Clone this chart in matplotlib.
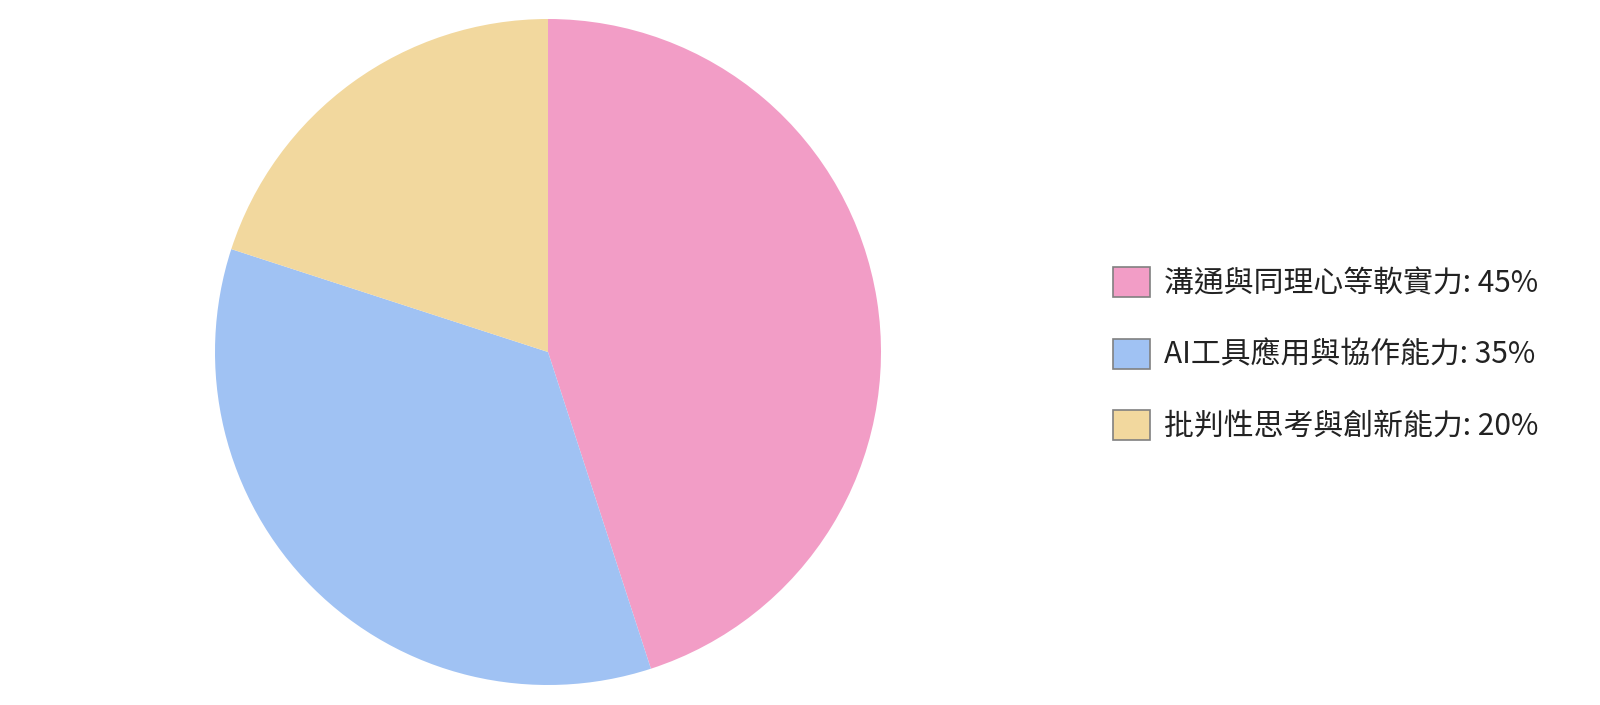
import matplotlib.pyplot as plt

plt.rcParams['font.family'] = ['Noto Sans CJK TC', 'DejaVu Sans']

labels = ['溝通與同理心等軟實力', 'AI工具應用與協作能力', '批判性思考與創新能力']
values = [45, 35, 20]
colors = ['#F29DC6', '#A0C2F3', '#F2D89E']

fig = plt.figure(figsize=(16, 7.05), dpi=100)
cx, cy, r = 548, 352, 333
ax = fig.add_axes([(cx - r) / 1600, (705 - cy - r) / 705, 2 * r / 1600, 2 * r / 705])
wedges, _ = ax.pie(values, colors=colors, startangle=90, counterclock=False,
                   radius=1, wedgeprops={'linewidth': 0})
ax.set_xlim(-1, 1)
ax.set_ylim(-1, 1)

leg_labels = [f'{l}: {v}%' for l, v in zip(labels, values)]
leg = fig.legend(wedges, leg_labels, loc='center left', bbox_to_anchor=(0.679, 0.497),
                 frameon=False, fontsize=21.5, handlelength=1.23, handleheight=1.17,
                 labelspacing=1.31, handletextpad=0.48)
for h in leg.legend_handles:
    h.set_edgecolor('#808080')
    h.set_linewidth(1.2)
for t in leg.get_texts():
    t.set_color('#222222')

fig.savefig('out.png', dpi=100)
